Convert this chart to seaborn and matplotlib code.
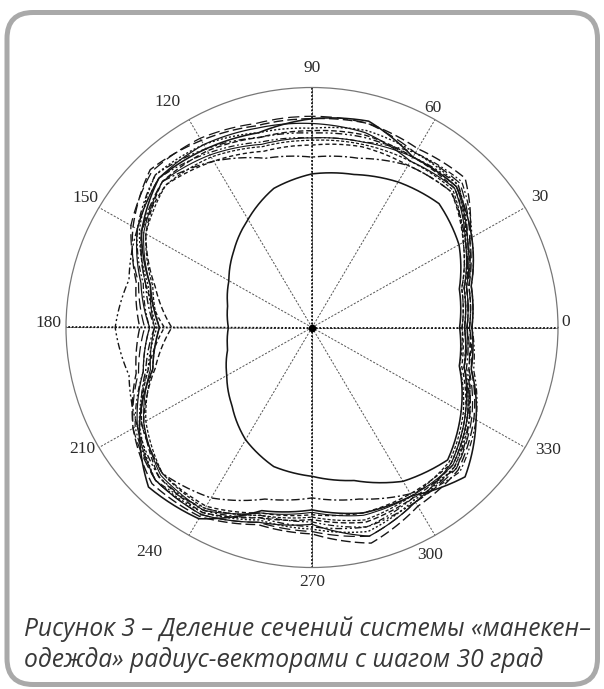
import numpy as np
import pandas as pd
import matplotlib
matplotlib.use("Agg")
import matplotlib.pyplot as plt
from matplotlib.patches import FancyBboxPatch
import seaborn as sns

# ---------------- data (radius, outer circle = 100) ----------------
angles_deg = [0, 15, 30, 45, 60, 75, 90, 105, 120, 135, 150, 165,
              180, 195, 210, 225, 240, 255, 270, 285, 300, 315, 330, 345]

mannequin = [60, 62, 69, 73, 70, 66, 64, 60, 52, 45, 39, 35.5,
             34, 35.5, 40, 46, 54, 60, 62, 66, 74, 78, 70, 62]

garment_01 = [65, 67, 75, 83, 82, 89, 87, 84, 86, 88, 80, 68,
              62, 67, 81, 94, 92, 79, 76, 80, 81, 88, 77, 67]
garment_02 = [62, 64, 72, 82, 80, 84, 85, 86, 88, 88, 82, 72,
              66, 71, 82, 90, 90, 84, 82, 90, 84, 80, 72, 64]
garment_03 = [64, 66, 74, 88, 86, 88, 87, 87, 90, 93, 84, 74,
              70, 74, 84, 92, 91, 85, 86, 93, 86, 84, 76, 67]
garment_04 = [61, 63, 71, 80, 78, 78, 76, 76, 80, 84, 80, 70,
              60, 69, 80, 86, 86, 80, 78, 80, 80, 80, 72, 63]
garment_05 = [63, 65, 72, 80, 78, 73, 71, 73, 80, 86, 80, 70,
              64, 70, 80, 86, 82, 74, 71, 74, 80, 83, 74, 65]
garment_06 = [62, 64, 73, 84, 82, 82, 81, 82, 86, 90, 82, 77,
              80, 77, 82, 88, 88, 82, 83, 86, 84, 82, 74, 64]
garment_07 = [64, 66, 73, 82, 82, 83, 82, 82, 85, 86, 78, 66,
              57, 66, 79, 88, 89, 82, 80, 84, 82, 81, 73, 66]
garment_08 = [62, 64, 72, 84, 84, 85, 83, 84, 88, 90, 81, 69,
              63, 69, 81, 90, 89, 83, 84, 88, 83, 82, 73, 64]
garment_09 = [65, 67, 75, 86, 84, 80, 79, 80, 84, 88, 82, 71,
              66, 71, 83, 90, 87, 81, 81, 86, 82, 85, 77, 68]
garment_10 = [63, 65, 74, 85, 84, 88, 88, 88, 91, 92, 85, 73,
              68, 73, 84, 90, 90, 84, 85, 90, 84, 83, 75, 66]
garment_11 = [61, 63, 71, 81, 80, 79, 78, 78, 82, 84, 78, 67,
              62, 67, 78, 86, 87, 81, 79, 83, 81, 79, 71, 62]
garment_12 = [63, 65, 73, 83, 82, 80, 79, 79, 83, 86, 79, 68,
              64, 68, 79, 87, 88, 80, 77, 81, 81, 81, 73, 64]

tick_angles = [0, 30, 60, 90, 120, 150, 180, 210, 240, 270, 300, 330]
tick_labels = ["0", "30", "60", "90", "120", "150", "180", "210", "240", "270", "300", "330"]

caption_1 = "Рисунок 3 – Деление сечений системы «манекен–"
caption_2 = "одежда» радиус-векторами с шагом 30 град"

# ---------------- styles / layout ----------------
sns.set_style("white")
plt.rcParams["font.family"] = ["Liberation Serif", "DejaVu Serif"]

series = [
    ("mannequin", mannequin, None, 1.15),
    ("g01", garment_01, None, 1.15),
    ("g02", garment_02, None, 0.9),
    ("g03", garment_03, (7, 3), 1.0),
    ("g04", garment_04, (3, 2), 1.0),
    ("g05", garment_05, (6, 2, 1.5, 2), 1.0),
    ("g06", garment_06, (5, 2, 1.5, 2, 1.5, 2), 1.0),
    ("g07", garment_07, (4, 2), 1.0),
    ("g08", garment_08, (1.5, 1.5), 1.0),
    ("g09", garment_09, (5, 2, 1.5, 2, 1.5, 2), 0.9),
    ("g10", garment_10, (9, 4), 0.9),
    ("g11", garment_11, (2.5, 1.5), 0.9),
    ("g12", garment_12, None, 0.8),
]

label_pos = {  # (angle deg, radius fraction) for tick labels
    "0": (1.3, 1.03), "30": (30.3, 1.074), "60": (61.8, 1.04), "90": (90, 1.081),
    "120": (122, 1.11), "150": (149.6, 1.07), "180": (179, 1.073), "210": (208.5, 1.064),
    "240": (234.8, 1.144), "270": (270, 1.06), "300": (297, 1.062), "330": (332, 1.085),
}

W, H = 604, 689
fig = plt.figure(figsize=(W / 100, H / 100), dpi=100)
fig.patch.set_facecolor("white")

# rounded frame
frame = FancyBboxPatch((0.07, 0.045), 5.905, 6.72,
                       boxstyle="round,pad=0,rounding_size=0.26",
                       transform=fig.dpi_scale_trans, fill=False,
                       edgecolor="#a9a9a9", linewidth=3.6)
fig.patches.append(frame)

cx, cy, rx, ry = 312, 327.5, 246, 240
ax = fig.add_axes([(cx - rx) / W, (H - cy - ry) / H, 2 * rx / W, 2 * ry / H],
                  projection="polar")
ax.set_aspect("auto")
ax.set_facecolor("none")
ax.set_ylim(0, 100)
ax.set_yticks([])
ax.set_xticks(np.deg2rad(tick_angles))
ax.set_xticklabels([])
ax.xaxis.grid(True, color="#555555", linewidth=0.7, linestyle=(0, (2.2, 1.6)))
ax.yaxis.grid(False)
ax.spines["polar"].set_color("#777777")
ax.spines["polar"].set_linewidth(0.9)

for a in (0, 90, 180, 270):
    ax.axvline(np.deg2rad(a), color="#111111", linewidth=1.3,
               linestyle=(0, (1.0, 1.0)), zorder=1)

theta = np.deg2rad(angles_deg + [360])
for name, vals, dash, lw in series:
    df = pd.DataFrame({"theta": theta, "r": list(vals) + [vals[0]]})
    sns.lineplot(data=df, x="theta", y="r", ax=ax, sort=False, estimator=None,
                 color="#161616", linewidth=lw, zorder=3)
    line = ax.lines[-1]
    if dash is not None:
        line.set_dashes(dash)
    # let the polar transform draw each segment as a spiral arc
    line._path._interpolation_steps = 30
    line.recache(always=True)

ax.plot([0], [0], "o", color="black", markersize=4.5, zorder=4)
ax.set_xlabel("")
ax.set_ylabel("")

for lab in tick_labels:
    a, f = label_pos[lab]
    ax.text(np.deg2rad(a), 100 * f, lab, ha="center", va="center",
            fontsize=12.5, color="#2a2a2a", clip_on=False,
            family=["Liberation Serif", "DejaVu Serif"])

cap_kw = dict(ha="left", va="center", fontsize=17.7, style="italic",
              color="#383838", family=["Open Sans", "DejaVu Sans"])
fig.text(24 / W, 1 - 629 / H, caption_1, **cap_kw)
fig.text(24 / W, 1 - 660 / H, caption_2, **cap_kw)

fig.savefig("out.png", dpi=100, facecolor="white")
